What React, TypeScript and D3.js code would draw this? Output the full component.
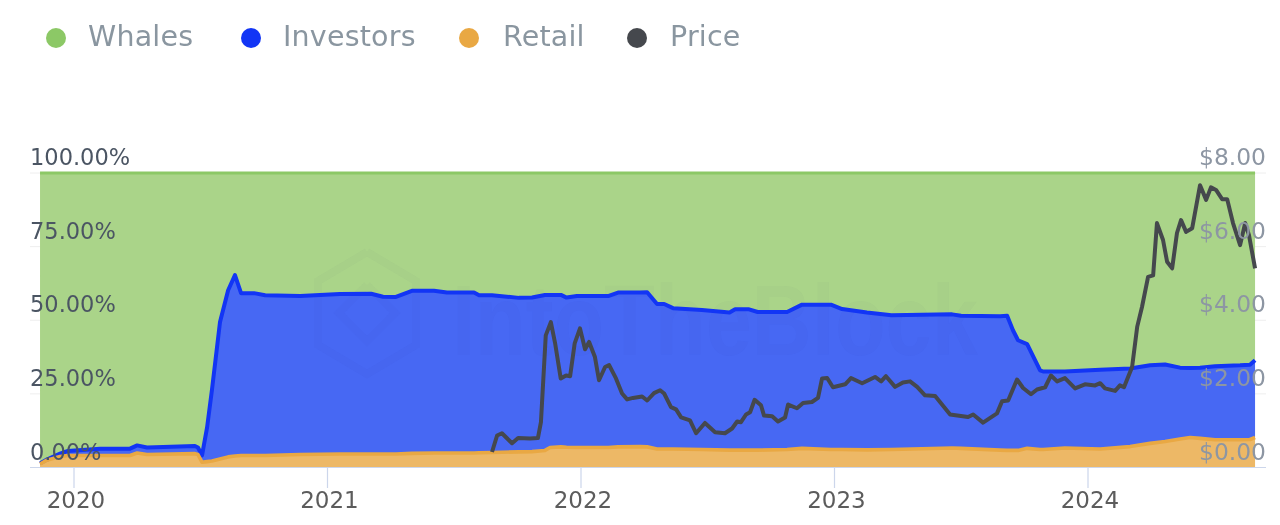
import React from "react";
import * as d3 from "d3";

const legendNames = ["Whales", "Investors", "Retail", "Price"];
const shareTicks = [0, 25, 50, 75, 100];
const priceTicks = [0, 2, 4, 6, 8];
const yearTicks = [2020, 2021, 2022, 2023, 2024];

const shareDates = [2019.866,2019.893,2019.945,2019.976,2020.103,2020.221,2020.249,2020.288,2020.477,2020.489,2020.505,2020.525,2020.544,2020.576,2020.608,2020.635,2020.659,2020.710,2020.754,2020.892,2021.049,2021.172,2021.219,2021.270,2021.333,2021.420,2021.471,2021.578,2021.598,2021.649,2021.755,2021.807,2021.858,2021.878,2021.921,2021.943,2021.984,2022.107,2022.146,2022.233,2022.261,2022.300,2022.328,2022.363,2022.477,2022.586,2022.608,2022.663,2022.697,2022.813,2022.872,2022.986,2023.030,2023.128,2023.225,2023.464,2023.499,2023.653,2023.681,2023.704,2023.724,2023.760,2023.811,2023.823,2023.909,2024.048,2024.166,2024.245,2024.304,2024.363,2024.403,2024.442,2024.501,2024.600,2024.639,2024.659];
const retail = [1.2,2.5,3.7,4.1,4.1,4.1,4.9,4.4,4.7,4.4,1.8,2.0,2.2,2.9,3.6,3.9,4.1,4.1,4.1,4.4,4.6,4.6,4.6,4.6,4.8,4.9,4.9,4.9,5.0,5.1,5.3,5.4,5.8,6.8,7.0,6.9,6.8,6.8,7.0,7.1,7.0,6.3,6.3,6.3,6.1,5.9,5.9,5.9,5.9,6.1,6.5,6.1,6.1,6.0,6.1,6.6,6.5,5.9,5.8,5.8,5.8,6.5,6.1,6.1,6.6,6.3,7.1,8.2,8.8,9.7,10.2,9.9,9.4,9.4,9.5,10.2];
const investors = [0.2,0.2,1.0,1.5,2.3,2.3,2.6,2.4,2.6,2.4,2.3,11.6,24.0,46.5,56.6,61.4,55.1,55.1,54.4,53.8,54.3,54.4,53.4,53.3,55.2,55.1,54.5,54.5,53.5,53.4,52.3,52.3,52.8,51.8,51.6,50.8,51.4,51.4,52.4,52.3,52.5,49.2,49.2,47.8,47.4,46.7,47.8,47.8,46.9,46.7,48.8,49.2,47.7,46.6,45.6,45.4,45.0,45.5,45.7,40.8,37.4,35.4,26.9,26.5,26.0,26.9,26.5,26.5,26.2,24.2,23.6,24.0,25.0,25.3,25.4,26.2];
const whales = [98.6,97.3,95.3,94.4,93.6,93.6,92.5,93.2,92.7,93.2,95.9,86.4,73.8,50.6,39.8,34.7,40.8,40.8,41.5,41.8,41.1,41.0,42.0,42.1,40.0,40.0,40.6,40.6,41.5,41.5,42.4,42.3,41.4,41.4,41.4,42.3,41.8,41.8,40.6,40.6,40.5,44.5,44.5,45.9,46.5,47.4,46.3,46.3,47.2,47.2,44.7,44.7,46.2,47.4,48.3,48.0,48.5,48.6,48.5,53.4,56.8,58.1,67.0,67.4,67.4,66.8,66.4,65.3,65.0,66.1,66.2,66.1,65.6,65.3,65.1,63.6];

const priceDates = [2021.649,2021.669,2021.688,2021.728,2021.752,2021.799,2021.830,2021.842,2021.861,2021.881,2021.898,2021.920,2021.941,2021.957,2021.975,2021.996,2022.016,2022.032,2022.055,2022.071,2022.095,2022.111,2022.138,2022.162,2022.182,2022.205,2022.241,2022.261,2022.288,2022.312,2022.328,2022.355,2022.375,2022.395,2022.430,2022.454,2022.489,2022.529,2022.568,2022.596,2022.616,2022.631,2022.651,2022.667,2022.685,2022.710,2022.722,2022.754,2022.777,2022.805,2022.817,2022.852,2022.876,2022.911,2022.935,2022.951,2022.971,2022.994,2023.042,2023.065,2023.109,2023.160,2023.184,2023.203,2023.239,2023.270,2023.298,2023.326,2023.357,2023.397,2023.456,2023.527,2023.547,2023.586,2023.641,2023.661,2023.685,2023.720,2023.744,2023.775,2023.799,2023.831,2023.854,2023.878,2023.909,2023.949,2023.988,2024.028,2024.048,2024.067,2024.107,2024.126,2024.142,2024.174,2024.194,2024.213,2024.237,2024.257,2024.272,2024.296,2024.312,2024.332,2024.351,2024.367,2024.387,2024.411,2024.442,2024.466,2024.485,2024.505,2024.529,2024.549,2024.572,2024.600,2024.620,2024.635,2024.659];
const price = [0.42,0.87,0.93,0.66,0.80,0.79,0.80,1.23,3.59,3.95,3.37,2.42,2.50,2.48,3.37,3.78,3.21,3.41,3.00,2.37,2.73,2.78,2.42,2.01,1.85,1.89,1.93,1.82,2.02,2.10,2.01,1.64,1.58,1.36,1.28,0.93,1.21,0.96,0.93,1.06,1.25,1.23,1.44,1.50,1.84,1.69,1.41,1.39,1.25,1.36,1.71,1.61,1.75,1.78,1.89,2.42,2.43,2.18,2.26,2.43,2.29,2.46,2.34,2.48,2.19,2.31,2.34,2.19,1.96,1.94,1.44,1.37,1.44,1.22,1.47,1.80,1.82,2.39,2.16,1.99,2.12,2.18,2.50,2.34,2.43,2.15,2.26,2.23,2.29,2.15,2.08,2.23,2.18,2.73,3.82,4.36,5.18,5.22,6.64,6.18,5.59,5.41,6.37,6.72,6.40,6.50,7.67,7.27,7.61,7.54,7.29,7.29,6.64,6.04,6.64,6.31,5.41];

const W = 1280, H = 525;
const plot = { left: 40.5, right: 1255, top: 173, bottom: 467.5 };
const colors = {
  whalesFill: "#aad489", whalesLine: "#8cc866",
  investorsFill: "#4768f3", investorsLine: "#1235f5",
  retailFill: "#edb866", retailLine: "#e9a843",
  price: "#45484d",
};
const legendDots = [colors.whalesLine, colors.investorsLine, colors.retailLine, colors.price];
const legendDotX = [56, 251, 469, 637];
const legendTextX = [88, 283, 503, 670];
const font = "'DejaVu Sans', sans-serif";

export default function App() {
  const x = d3.scaleLinear().domain([2020, 2024]).range([74, 1088]);
  const yShare = d3.scaleLinear().domain([0, 100]).range([plot.bottom, plot.top]);
  const yPrice = d3.scaleLinear().domain([0, 8]).range([plot.bottom, plot.top]);

  const rows = shareDates.map((d, i) => ({ d, retail: retail[i], investors: investors[i], whales: whales[i] }));
  const stacked = d3.stack<any>().keys(["retail", "investors", "whales"])(rows);
  const area = d3.area<any>()
    .x((p) => x(p.data.d))
    .y0((p) => yShare(p[0]))
    .y1((p) => yShare(p[1]));
  const topLine = d3.line<any>().x((p) => x(p.data.d)).y((p) => yShare(p[1]));
  const priceLine = d3.line<number>()
    .x((d) => x(d))
    .y((_, i) => yPrice(price[i]));

  const fills = [colors.retailFill, colors.investorsFill, colors.whalesFill];
  const lines = [colors.retailLine, colors.investorsLine, colors.whalesLine];
  const wm = "rgba(50,60,110,0.022)";
  const hexOuter: [number, number][] = [[367, 252], [416, 281], [416, 345], [367, 374], [318, 345], [318, 281], [367, 252]];
  const hexInner: [number, number][] = [[367, 285], [395, 313], [367, 341], [339, 313], [367, 285]];
  const hexPath = d3.line();

  return (
    <svg width={W} height={H} viewBox={`0 0 ${W} ${H}`} style={{ position: "absolute", left: 0, top: 0, background: "#fff", fontFamily: font, filter: "blur(0.4px)" }}>
      <defs>
        <clipPath id="plotClip">
          <rect x={plot.left - 3} y={plot.top - 3} width={plot.right - plot.left + 5} height={plot.bottom - plot.top + 3} />
        </clipPath>
      </defs>

      {legendNames.map((n, i) => (
        <g key={n}>
          <circle cx={legendDotX[i]} cy={38} r={10} fill={legendDots[i]} />
          <text x={legendTextX[i]} y={46} fontSize={28.5} letterSpacing={0.2} fill="#8a96a0">{n}</text>
        </g>
      ))}

      {shareTicks.slice(1).map((t) => (
        <line key={t} x1={30} x2={1266} y1={yShare(t)} y2={yShare(t)} stroke="#eeeeee" strokeWidth={1} />
      ))}

      <g>
        {stacked.map((s, i) => <path key={s.key} d={area(s) ?? ""} fill={fills[i]} />)}
      </g>

      <g>
        <text x={452} y={355} fontSize={100} fontWeight={700} fontFamily="'Liberation Sans', sans-serif" textLength={526} lengthAdjust="spacingAndGlyphs" fill={wm}>IntoTheBlock</text>
        <path d={hexPath(hexOuter) ?? ""} fill="none" stroke={wm} strokeWidth={8} />
        <path d={hexPath(hexInner) ?? ""} fill="none" stroke={wm} strokeWidth={8} />
      </g>

      <g clipPath="url(#plotClip)" fill="none" strokeLinejoin="round">
        <path d={topLine(stacked[2]) ?? ""} stroke={lines[2]} strokeWidth={3} />
        <path d={topLine(stacked[1]) ?? ""} stroke={lines[1]} strokeWidth={4} />
        <path d={topLine(stacked[0]) ?? ""} stroke={lines[0]} strokeWidth={3.6} />
        <path d={priceLine(priceDates) ?? ""} stroke={colors.price} strokeWidth={4} />
      </g>

      <line x1={30} x2={1266} y1={467.5} y2={467.5} stroke="#ccd6eb" strokeWidth={1.2} />
      {yearTicks.map((t) => (
        <g key={t}>
          <line x1={x(t)} x2={x(t)} y1={468} y2={488} stroke="#ccd6eb" strokeWidth={1.2} />
          <text x={x(t) + 2} y={508} fontSize={23} textAnchor="middle" fill="#5c5c5c">{t}</text>
        </g>
      ))}

      {shareTicks.map((t) => (
        <text key={t} x={30} y={yShare(t) - 8} fontSize={22.5} fill="#4b5563">{`${t.toFixed(2)}%`}</text>
      ))}
      {priceTicks.map((t) => (
        <text key={t} x={1266} y={yPrice(t) - 8} fontSize={23.4} textAnchor="end" fill="#8d96a3">{`$${t.toFixed(2)}`}</text>
      ))}
    </svg>
  );
}
